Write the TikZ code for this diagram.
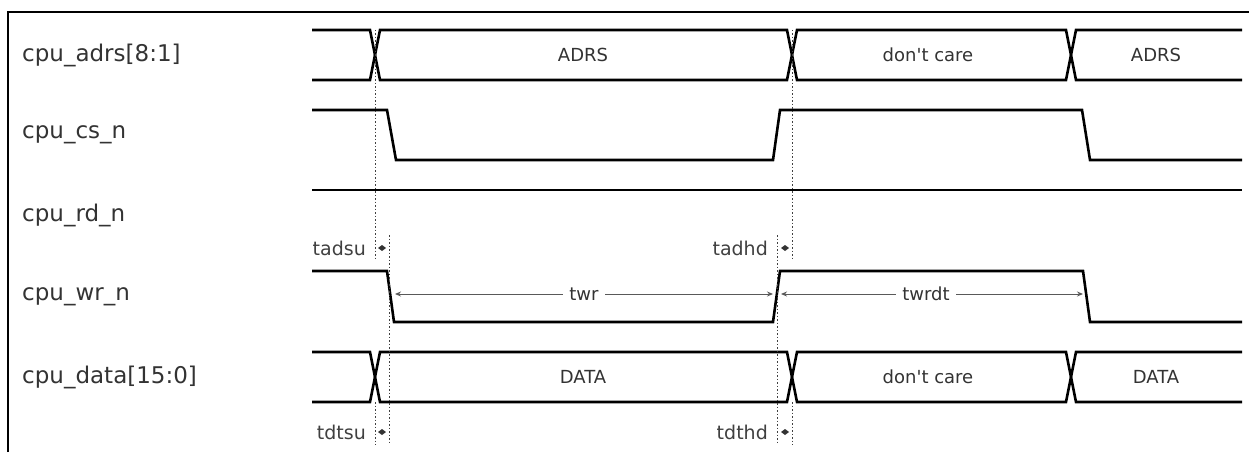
\documentclass[tikz,border=0pt]{standalone}
\usepackage{fontspec}
\setmainfont{DejaVu Sans}
\usetikzlibrary{arrows.meta}

\begin{document}
\begin{tikzpicture}[x=1pt, y=-1pt,
    sig/.style={line width=2.6pt, line join=miter},
    guide/.style={dash pattern=on 1.5pt off 2pt, line width=1pt, black!75},
    span/.style={line width=0.9pt, black!65, {Stealth[length=6pt,width=5pt]}-{Stealth[length=6pt,width=5pt]}},
    tick/.style={fill=black!80},
    signame/.style={anchor=west, inner sep=0pt, text=black!80, font=\fontsize{23}{23}\selectfont},
    val/.style={inner sep=1pt, text=black!80, font=\fontsize{18}{18}\selectfont},
    tlab/.style={anchor=east, inner sep=0pt, text=black!75, font=\fontsize{19}{19}\selectfont}]
    \useasboundingbox (0,0) rectangle (1249,452);
    % frame
    \draw[line width=2pt] (8,452) -- (8,12) -- (1249,12);

    % signal names
    \node[signame] (adrs) at (22,55) {cpu\_adrs[8:1]};
    \node[signame] (cs) at (22,135) {cpu\_cs\_n};
    \node[signame] (rd) at (22,215) {cpu\_rd\_n};
    \node[signame] (wr) at (22,297) {cpu\_wr\_n};
    \node[signame] (data) at (22,377) {cpu\_data[15:0]};

    % busses
    \foreach \t/\b in {30/80, 352/402}{
        \draw[sig] (312,\t) -- (370,\t) -- (380,\b) -- (787,\b) -- (797,\t) -- (1066,\t) -- (1076,\b) -- (1242,\b);
        \draw[sig] (312,\b) -- (370,\b) -- (380,\t) -- (787,\t) -- (797,\b) -- (1066,\b) -- (1076,\t) -- (1242,\t);
    };
    \node[val] (adrsA) at (583,55) {ADRS};
    \node[val] (adrsB) at (928,55) {don\textquotesingle t care};
    \node[val] (adrsC) at (1156,55) {ADRS};
    \node[val] (dataA) at (583,377) {DATA};
    \node[val] (dataB) at (928,377) {don\textquotesingle t care};
    \node[val] (dataC) at (1156,377) {DATA};

    % single lines
    \draw[sig] (312,110) -- (387,110) -- (396,160) -- (773,160) -- (780,110) -- (1082,110) -- (1090,160) -- (1242,160);
    \draw[sig] (312,190) -- (1242,190);
    \draw[sig] (312,271) -- (387,271) -- (394,322) -- (773,322) -- (780,271) -- (1083,271) -- (1090,322) -- (1242,322);

    % guides
    \draw[guide] (375,30) -- (375,260);
    \draw[guide] (389,235) -- (389,445);
    \draw[guide] (375,402) -- (375,445);
    \draw[guide] (792,30) -- (792,258);
    \draw[guide] (777,235) -- (777,445);
    \draw[guide] (792,402) -- (792,445);

    % timings
    \coordinate (twrL) at (395,294);
    \coordinate (twrR) at (773,294);
    \coordinate (twrdtL) at (781,294);
    \coordinate (twrdtR) at (1083,294);
    \draw[span] (twrL) -- node[val, fill=white, inner xsep=6pt] (twr) {twr} (twrR);
    \draw[span] (twrdtL) -- node[val, fill=white, inner xsep=6pt, xshift=-6pt] (twrdt) {twrdt} (twrdtR);

    \node[tlab] (tadsu) at (366,248) {tadsu};
    \node[tlab] (tadhd) at (768,248) {tadhd};
    \node[tlab] (tdtsu) at (366,432) {tdtsu};
    \node[tlab] (tdthd) at (768,432) {tdthd};
    \foreach \x/\y in {382/248, 785/248, 382/432, 785/432}{
        \fill[tick] (\x-4,\y) -- (\x,\y-3) -- (\x+4,\y) -- (\x,\y+3) -- cycle;
    };
\end{tikzpicture}
\end{document}
